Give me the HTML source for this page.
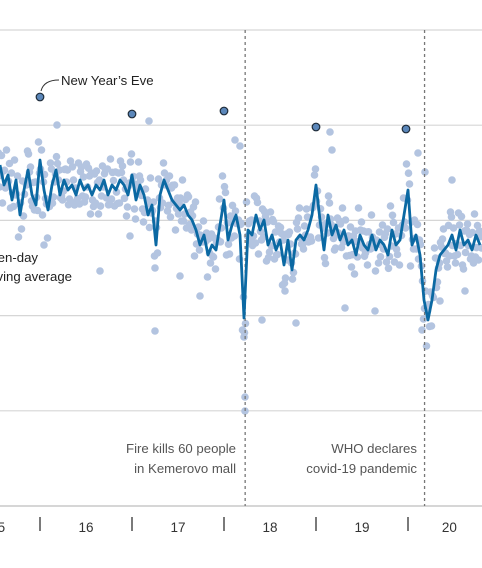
<!DOCTYPE html>
<html><head><meta charset="utf-8">
<style>
html,body{margin:0;padding:0;background:#fff;}
body{width:482px;height:563px;overflow:hidden;}
svg text{font-family:"Liberation Sans",sans-serif;}
</style></head>
<body>
<svg id="chart" width="482" height="563" viewBox="0 0 482 563" xmlns="http://www.w3.org/2000/svg">
<g id="grid"></g>
<g id="dots"></g>
<g id="events"></g>
<g id="line"></g>
<g id="nye"></g>
<g id="axis"></g>
<path d="M41,91 C43,83 50,80 59,80" fill="none" stroke="#333" stroke-width="1"/>
<text x="61" y="85" font-size="13.2" fill="#222">New Year’s Eve</text>
<text x="38" y="262" font-size="13.2" fill="#222" text-anchor="end">Ten-day</text>
<text x="72" y="281" font-size="13.2" fill="#222" text-anchor="end">moving average</text>
<text x="236" y="453" font-size="13.2" fill="#555" text-anchor="end">Fire kills 60 people</text>
<text x="236" y="473" font-size="13.2" fill="#555" text-anchor="end">in Kemerovo mall</text>
<text x="417" y="453" font-size="13.2" fill="#555" text-anchor="end">WHO declares</text>
<text x="417" y="473" font-size="13.2" fill="#555" text-anchor="end">covid-19 pandemic</text>
</svg>
<script>
// values = height above baseline (arbitrary units)
const yTicks = [0, 95.2, 190.4, 285.6, 380.8, 476];
const yearTicks = [1, 2, 3, 4, 5];
const yearLabels = ["15", "16", "17", "18", "19", "20"];
const yearLabelPos = [-0.46, 0.5, 1.5, 2.5, 3.5, 4.45];
const eventYears = [2.23, 4.18];
const lineY = [341,321,331,306,326,291,316,336,311,301,346,316,296,321,336,311,326,316,321,311,326,316,321,311,321,316,326,311,321,316,326,321,311,331,306,321,311,291,301,261,311,326,316,306,301,296,301,291,286,276,261,271,251,261,256,281,306,266,281,291,271,188,276,271,291,276,286,261,271,256,266,241,266,236,266,271,266,276,291,321,286,256,291,271,281,266,276,261,266,251,271,261,256,271,256,266,261,251,276,261,266,291,316,261,271,251,206,186,206,236,251,256,261,271,256,276,261,266,256,271,261];
const offA = [12,-18,25,-8,20,-22,9,-15,28,-5,18,-25,6,22,-12,15,-20,8,24,-10,17,-6,21,-19,11,-24,14,-3,26,-16,7,19,-21,13,-9,23,-14,4,27,-11,16,-23,10,-17,20,-4,25,-13,8,-26,18,-7,22,-18,12,-2,24,-15,9,-21,15,-12,28,-6,19,-24,11,-16,23,-9,14,-20,6,26,-13,17,-5,21,-22,10,-18,25,-8,16,-25,7,22,-11,13,-19,27,-3,18,-14,9,-23,20,-7,24,-17,12,-10,26,-21,15,-4,19,-26,8,22,-13,11,-16,23,-6,17,-20,10,-9,21,-15];
const offB = [-22,14,-9,27,-15,11,-26,19,-6,23,-13,8,-28,16,-4,25,-11,20,-17,7,-24,13,-2,22,-18,10,-7,26,-14,18,-23,5,-12,21,-19,9,-27,15,-8,24,-3,17,-21,12,-25,6,-16,20,-10,28,-5,14,-22,11,-19,26,-8,17,-13,4,-24,21,-6,15,-28,9,-17,23,-11,18,-2,25,-20,7,-14,27,-9,13,-26,16,-5,22,-18,10,-23,19,-12,6,-27,24,-7,14,-15,20,-21,8,-4,26,-16,11,-25,17,-10,23,-3,15,-19,9,-26,12,-8,21,-22,18,-13,5,-24,16,-6];
const outX = [57,149,235,240,245,245,244,155,262,296,330,332,418,425,452,422,44,155,130,285,375,465,100,200,180,345,440];
const outV = [381,385,366,360,109,95,169,175,186,183,374,356,353,334,326,176,261,238,270,215,195,215,235,210,230,198,205];
const nyeX = [40,132,224,316,406];
const nyeV = [409,392,395,379,377];

const NS = "http://www.w3.org/2000/svg";
const yScale = v => 506 - v;
const xIdx = i => i * 4;
function mk(tag, parent, attrs) {
  const el = document.createElementNS(NS, tag);
  for (const k in attrs) el.setAttribute(k, attrs[k]);
  parent.appendChild(el);
  return el;
}
const grid = document.getElementById('grid');
yTicks.forEach((v, i) => {
  const l = mk('line', grid, {x1: 0, x2: 482, y1: yScale(v), y2: yScale(v), stroke: i === 0 ? '#bdbdbd' : '#d6d6d6', 'stroke-width': 1.2});
  
  
});
const dots = document.getElementById('dots');
const nA = offA.length, nB = offB.length;
lineY.forEach((v, i) => {
  const offs = [offA[i % nA], offB[i % nB], offA[(nA - 1 - i % nA)] * 0.7, offB[(i + 7) % nB] * 0.5];
  offs.forEach((o, j) => {
    const c = mk('circle', dots, {cx: xIdx(i) + j - 1.5, cy: yScale(v + o), r: 3.8, fill: '#b3c4e0'});
    
    
  });
});
outX.forEach((x, i) => {
  const c = mk('circle', dots, {cx: x, cy: yScale(outV[i]), r: 3.8, fill: '#b3c4e0'});
  
  
});
const ev = document.getElementById('events');
eventYears.forEach(t => {
  const l = mk('line', ev, {x1: 40 + t * 92, x2: 40 + t * 92, y1: 30, y2: 506, stroke: '#777', 'stroke-width': 1.3, 'stroke-dasharray': '3,3'});
  
  
});
const lg = document.getElementById('line');
const p = mk('path', lg, {d: lineY.map((v, i) => (i ? 'L' : 'M') + xIdx(i) + ',' + yScale(v)).join(''), fill: 'none', stroke: '#0b69a3', 'stroke-width': 2.8, 'stroke-linejoin': 'round'});


const nye = document.getElementById('nye');
nyeX.forEach((x, i) => {
  const c = mk('circle', nye, {cx: x, cy: yScale(nyeV[i]), r: 3.8, fill: '#5b87ba', stroke: '#1e2b38', 'stroke-width': 1.2});
  
  
});
const ax = document.getElementById('axis');
yearTicks.forEach(t => {
  const x = 40 + (t - 1) * 92;
  const l = mk('line', ax, {x1: x, x2: x, y1: 517, y2: 531, stroke: '#333', 'stroke-width': 1.3});
  
  
});
yearLabels.forEach((s, i) => {
  const t = mk('text', ax, {x: 40 + yearLabelPos[i] * 92, y: 532, 'font-size': 13.5, fill: '#333', 'text-anchor': 'middle'});
  t.textContent = s;
  
  
});
</script>
</body></html>
